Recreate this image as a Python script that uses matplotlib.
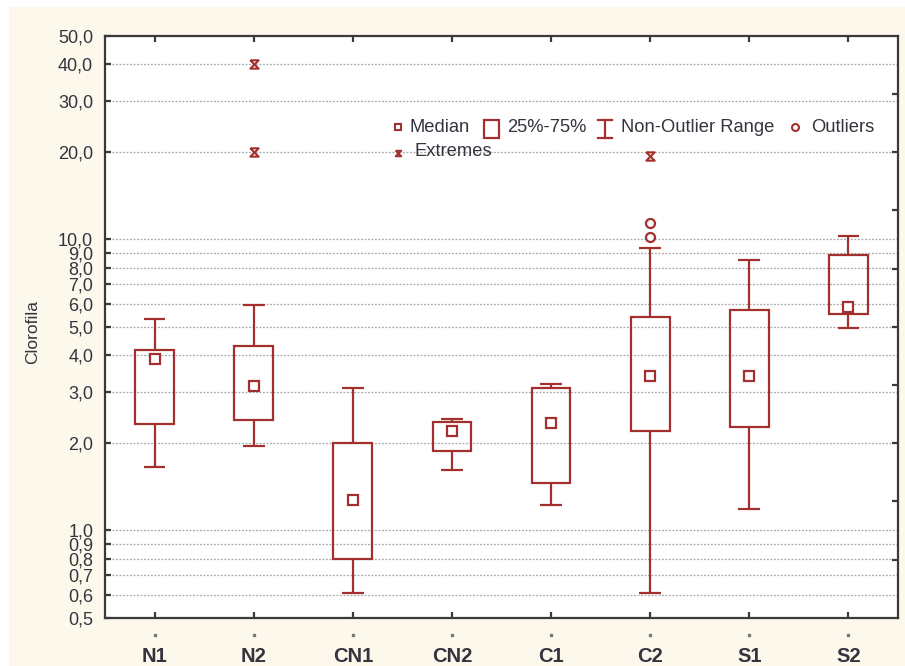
import numpy as np
import matplotlib
matplotlib.use("Agg")
import matplotlib.pyplot as plt
from matplotlib.patches import Rectangle
from matplotlib.lines import Line2D
from matplotlib.path import Path
from matplotlib.transforms import blended_transform_factory

plt.rcParams["font.family"] = ["Liberation Sans", "DejaVu Sans"]

# Box-plot summaries of chlorophyll per treatment
categories = ["N1", "N2", "CN1", "CN2", "C1", "C2", "S1", "S2"]
median = [3.89, 3.14, 1.27, 2.19, 2.34, 3.40, 3.40, 5.86]
q25 = [2.32, 2.39, 0.80, 1.87, 1.46, 2.19, 2.27, 5.53]
q75 = [4.18, 4.29, 2.00, 2.36, 3.09, 5.41, 5.74, 8.85]
range_low = [1.65, 1.95, 0.61, 1.61, 1.22, 0.61, 1.18, 4.98]
range_high = [5.33, 5.97, 3.09, 2.41, 3.19, 9.36, 8.51, 10.27]
outliers = {"C2": [10.2, 11.4]}
extremes = {"N2": [20.0, 40.0], "C2": [19.3]}

y_ticks = [0.5, 0.6, 0.7, 0.8, 0.9, 1.0, 2.0, 3.0, 4.0, 5.0, 6.0, 7.0, 8.0, 9.0,
           10.0, 20.0, 30.0, 40.0, 50.0]
y_tick_labels = [f"{v:.1f}".replace(".", ",") for v in y_ticks]

RED = "#a3302f"
TEXT = "#34343f"
W, H = 905, 666

fig = plt.figure(figsize=(W / 100, H / 100), dpi=100, facecolor="white")


def fx(x):
    return x / W


def fy(y):
    return 1 - y / H


# cream panel behind the chart
fig.add_artist(Rectangle((fx(9), 0), 1 - fx(9), fy(7), transform=fig.transFigure,
                         facecolor="#fdf8ec", edgecolor="none", zorder=-10))

ax = fig.add_axes([fx(105), fy(618), fx(898) - fx(105), fy(36) - fy(618)])
ax.set_facecolor("white")
ax.set_yscale("log")
ax.set_ylim(0.5, 50)
ax.set_xlim(-0.5, len(categories) - 0.5)

# dotted horizontal grid
for v in y_ticks[1:-1]:
    ax.axhline(v, color="#a8a8a8", lw=0.9, ls=(0, (1.5, 1.3)), zorder=0)

# hourglass symbol for extremes
hg = Path([(-1, 1), (1, 1), (-1, -1), (1, -1), (-1, 1)],
          [Path.MOVETO, Path.LINETO, Path.LINETO, Path.LINETO, Path.LINETO])

box_w = 0.39
cap_w = 0.22
lw = 1.6
for i, cat in enumerate(categories):
    ax.add_patch(Rectangle((i - box_w / 2, q25[i]), box_w, q75[i] - q25[i],
                           facecolor="none", edgecolor=RED, lw=lw, zorder=3))
    ax.vlines(i, q75[i], range_high[i], color=RED, lw=lw, zorder=3)
    ax.vlines(i, range_low[i], q25[i], color=RED, lw=lw, zorder=3)
    ax.hlines([range_low[i], range_high[i]], i - cap_w / 2, i + cap_w / 2,
              color=RED, lw=lw, zorder=3)
    ax.plot(i, median[i], marker="s", ms=6.5, mfc="white", mec=RED, mew=1.6, zorder=4)
    if cat in outliers:
        ax.plot([i] * len(outliers[cat]), outliers[cat], ls="none", marker="o", ms=6.5,
                mfc="white", mec=RED, mew=1.6, zorder=4)
    if cat in extremes:
        ax.plot([i] * len(extremes[cat]), extremes[cat], ls="none", marker=hg, ms=6,
                mfc="none", mec=RED, mew=1.5, zorder=4)

# axes styling
for s in ax.spines.values():
    s.set_color("#3a3a3a")
    s.set_linewidth(1.6)

ax.set_yticks(y_ticks)
ax.set_yticklabels(y_tick_labels)
ax.yaxis.set_minor_locator(matplotlib.ticker.NullLocator())
ax.tick_params(axis="y", direction="in", length=4, width=1.6, color="#3a3a3a",
               labelsize=13, labelcolor=TEXT, pad=8.5)
ax.set_xticks(range(len(categories)))
ax.set_xticklabels(categories)
ax.tick_params(axis="x", direction="in", length=4, width=1.6, color="#3a3a3a",
               top=True, labelsize=14.5, labelcolor=TEXT, pad=21)
for lab in ax.get_xticklabels():
    lab.set_fontweight("bold")

# ticks on right side at regular log steps
ax2 = ax.twinx()
ax2.set_yscale("log")
ax2.set_ylim(ax.get_ylim())
ax2.set_yticks(10 ** np.arange(-0.1, 1.6, 0.2))
ax2.yaxis.set_minor_locator(matplotlib.ticker.NullLocator())
ax2.tick_params(axis="y", direction="in", length=4, width=1.6, color="#3a3a3a",
                labelright=False)
for s in ax2.spines.values():
    s.set_visible(False)

# small marks under the category positions
tr = blended_transform_factory(ax.transData, ax.transAxes)
ax.plot(range(len(categories)), [-0.03] * len(categories), ls="none", marker="s",
        ms=1.6, color="#777777", transform=tr, clip_on=False)

fig.text(fx(33), fy(332), "Clorofila", rotation=90, ha="center", va="center",
         fontsize=12.5, color=TEXT)

# legend
LS = 13.2
fig.add_artist(Line2D([fx(398)], [fy(127)], marker="s", ms=5, mfc="white", mec=RED,
                      mew=1.5, transform=fig.transFigure))
fig.text(fx(409), fy(127), "Median", fontsize=LS, color=TEXT, va="center")
fig.add_artist(Rectangle((fx(484), fy(138)), fx(15), fy(0) - fy(18),
                         transform=fig.transFigure, facecolor="white",
                         edgecolor=RED, lw=1.6))
fig.text(fx(507), fy(127), "25%-75%", fontsize=LS, color=TEXT, va="center")
fig.add_artist(Line2D([fx(605), fx(605)], [fy(120), fy(138)], color=RED, lw=1.6,
                      transform=fig.transFigure))
for yy in (120, 138):
    fig.add_artist(Line2D([fx(598), fx(612)], [fy(yy), fy(yy)], color=RED, lw=1.6,
                          transform=fig.transFigure))
fig.text(fx(621), fy(127), "Non-Outlier Range", fontsize=LS, color=TEXT, va="center")
fig.add_artist(Line2D([fx(795)], [fy(127)], marker="o", ms=5, mfc="white", mec=RED,
                      mew=1.5, transform=fig.transFigure))
fig.text(fx(811), fy(127), "Outliers", fontsize=LS, color=TEXT, va="center")
fig.add_artist(Line2D([fx(398)], [fy(153)], marker=hg, ms=4, mfc="none", mec=RED,
                      mew=1.4, transform=fig.transFigure))
fig.text(fx(414), fy(152), "Extremes", fontsize=LS, color=TEXT, va="center")

fig.savefig("out.png", dpi=100, facecolor=fig.get_facecolor())
